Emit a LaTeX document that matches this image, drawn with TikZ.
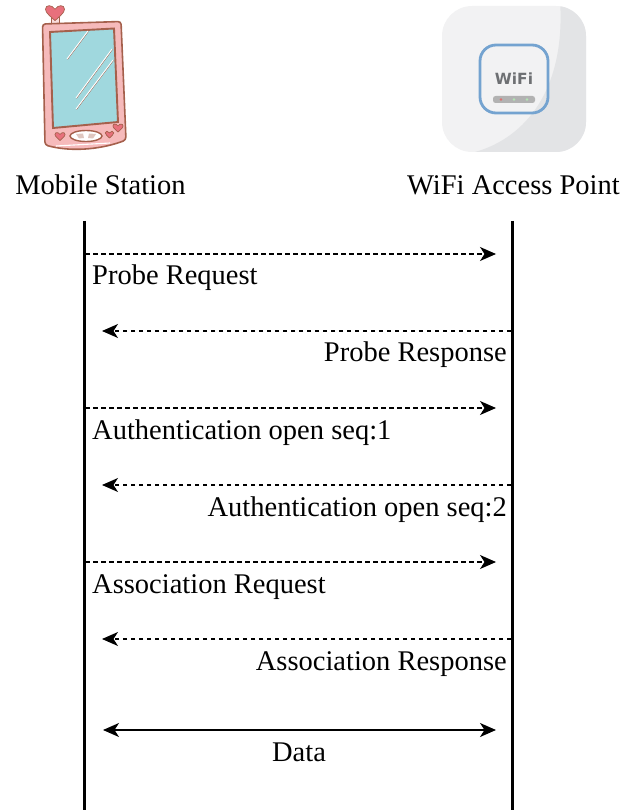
\documentclass[tikz,border=0pt]{standalone}
\usepackage{fontspec}
\setmainfont{Liberation Serif}
\newfontfamily\logofont{DejaVu Sans}
\usetikzlibrary{arrows.meta}
\definecolor{phonepink}{HTML}{F6BABB}
\definecolor{phoneline}{HTML}{A5604C}
\definecolor{phonescreen}{HTML}{A0D8DE}
\definecolor{heartred}{HTML}{E8707C}
\definecolor{boxlight}{HTML}{F2F2F3}
\definecolor{boxdark}{HTML}{E3E4E6}
\definecolor{wifiblue}{HTML}{74A3D0}
\definecolor{wifigrey}{HTML}{6E7073}
\tikzset{
  lbl/.style={font=\fontsize{28.5}{30}\selectfont,inner sep=0pt},
  lifeline/.style={line width=3pt},
  msg/.style={line width=1.2pt,dash pattern=on 4.5pt off 3.5pt,-{Stealth[length=16pt,width=14pt,inset=4.5pt]}},
  datamsg/.style={line width=1.5pt,{Stealth[length=16pt,width=14pt,inset=4.5pt]}-{Stealth[length=16pt,width=14pt,inset=4.5pt]}},
  heart/.pic={\fill[heartred,draw=phoneline,line width=.7pt](0,3.5)..controls(-2,1.5) and (-5,-.5)..(-5,-2.5)..controls(-5,-5) and (-1.5,-5)..(0,-2.5)..controls(1.5,-5) and (5,-5)..(5,-2.5)..controls(5,-.5) and (2,1.5)..(0,3.5)--cycle;}
}
\begin{document}
\begin{tikzpicture}[x=1pt,y=-1pt]
\useasboundingbox(0,0)rectangle(634,810);
% phone
\fill[phonepink!50,draw=phoneline,line width=1pt](51,24)--(51,18)--(59,18)--(59,24)--cycle;
\fill[phonepink,draw=phoneline,line width=1.6pt,rounded corners=3pt](42.5,24)--(121,21.5)--(126,140)..controls(105,148) and (75,153)..(45,145)--cycle;
\fill[phonescreen,draw=phoneline,line width=1.9pt](50,32)--(114,28.5)--(118,122)--(53,128)--cycle;
\draw[phoneline,line width=.5pt](88.5,31.5)--(67.5,59.5);
\draw[phoneline,line width=.5pt](112.5,49.5)--(76.5,98.5);
\draw[phoneline,line width=.5pt](113.5,60.5)--(76.5,109.5);
\draw[white,line width=.9pt](88,31)--(67,59);
\draw[white,line width=.9pt](112,49)--(76,98);
\draw[white,line width=.9pt](113,60)--(76,109);
\draw[white,line width=1.1pt](56,146)--(110,143);
\fill[white,draw=phoneline,line width=1.4pt](86,136)ellipse(16 and 5.5);
\fill[phoneline!35](76,134)--(83,133.5)--(84,138)--(79,138.5)--cycle;
\fill[phoneline!35](89,133.5)--(96,134)--(93,138.5)--(88,138)--cycle;
\pic at(60,137){heart};
\pic[scale=.85] at(109.5,135){heart};
\pic at(118,128.5){heart};
\pic[scale=1.9] at(55,14){heart};
% wifi box
\fill[boxlight,rounded corners=30pt](442,6)rectangle(586,152);
\begin{scope}
\clip[rounded corners=30pt](442,6)rectangle(586,152);
\fill[boxdark](560,0)--(590,0)--(590,156)--(470,156)--(475,152)..controls(525,138) and (566,90)..(560,0)--cycle;
\end{scope}
\draw[wifiblue,line width=2.8pt,rounded corners=16pt](480,45)rectangle(548,113);
\node[inner sep=0pt,text=wifigrey,font=\fontsize{15.4}{15.4}\logofont\bfseries](wifilogo)at(514,79){WiFi};
\fill[gray!60,rounded corners=2.5pt](493,96)rectangle(535,103);
\fill[red!60!gray!70](501,99.5)circle(1.4);
\fill[green!50!gray!40](514,99.5)circle(1.4);
\fill[green!50!gray!40](527,99.5)circle(1.4);
% titles
\node[lbl,anchor=base](ms)at(100.5,195){Mobile Station};
\node[lbl,anchor=base](ap)at(513.5,195){WiFi Access Point};
% lifelines
\coordinate(msa)at(84,221);
\coordinate(msb)at(84,810);
\coordinate(apa)at(512,221);
\coordinate(apb)at(512,810);
\draw[lifeline](msa)--(msb);
\draw[lifeline](apa)--(apb);
% messages
\coordinate(a1)at(85,254);
\coordinate(b1)at(496,254);
\coordinate(a2)at(511,331);
\coordinate(b2)at(102,331);
\coordinate(a3)at(85,408);
\coordinate(b3)at(496,408);
\coordinate(a4)at(511,485);
\coordinate(b4)at(102,485);
\coordinate(a5)at(85,562);
\coordinate(b5)at(496,562);
\coordinate(a6)at(511,639);
\coordinate(b6)at(102,639);
\coordinate(a7)at(103,730);
\coordinate(b7)at(496,730);
\draw[msg](a1)--(b1);
\draw[msg](a2)--(b2);
\draw[msg](a3)--(b3);
\draw[msg](a4)--(b4);
\draw[msg](a5)--(b5);
\draw[msg](a6)--(b6);
\draw[datamsg](a7)--(b7);
% labels
\node[lbl,anchor=base west](l1)at(92,284){Probe Request};
\node[lbl,anchor=base east](l2)at(507,361){Probe Response};
\node[lbl,anchor=base west](l3)at(92,439){Authentication open seq:1};
\node[lbl,anchor=base east](l4)at(507,516){Authentication open seq:2};
\node[lbl,anchor=base west](l5)at(92,593){Association Request};
\node[lbl,anchor=base east](l6)at(507,670){Association Response};
\node[lbl,anchor=base](l7)at(299,761){Data};
\end{tikzpicture}
\end{document}
